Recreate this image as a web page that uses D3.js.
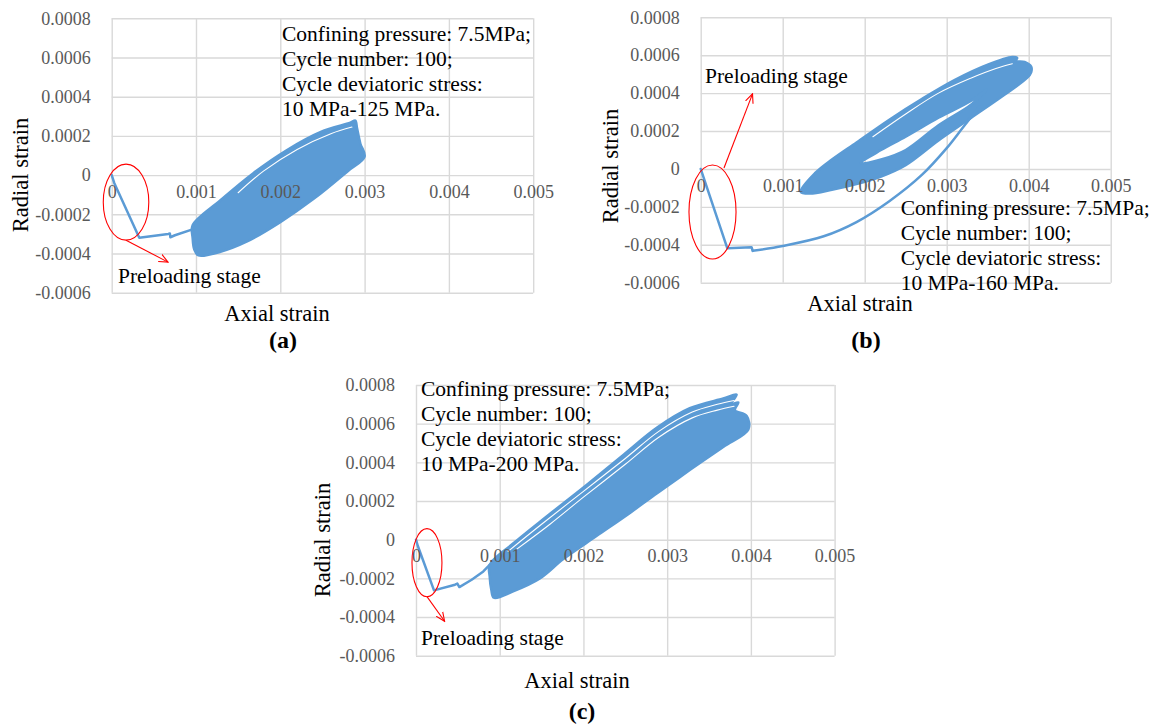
<!DOCTYPE html>
<html>
<head>
<meta charset="utf-8">
<script src="https://cdn.jsdelivr.net/npm/d3@7"></script>
<style>
  html, body { margin: 0; padding: 0; background: #ffffff; }
  svg { display: block; }
</style>
</head>
<body>
<svg id="fig" width="1150" height="726"></svg>
<script>
// ---- shared axes ----
const xTicks = [0, 0.001, 0.002, 0.003, 0.004, 0.005];
const yTicks = [-0.0006, -0.0004, -0.0002, 0, 0.0002, 0.0004, 0.0006, 0.0008];
const xTitle = "Axial strain";
const yTitle = "Radial strain";
const preloadLabel = "Preloading stage";

// ---- panel (a): 10 MPa-125 MPa ----
const noteA = ["Confining pressure: 7.5MPa;", "Cycle number: 100;", "Cycle deviatoric stress:", "10 MPa-125 MPa."];
const preloadA = [[0, 0], [0.00003, -0.00004], [0.000327, -0.00032], [0.00067, -0.000300], [0.00069, -0.000298],
  [0.000696, -0.000317], [0.00075, -0.000307], [0.00095, -0.000278], [0.00097, -0.00026]];
const rampA = [];
const bandA = [[0.00096, -0.000256], [0.00129, -0.000128], [0.00168, 0.00001], [0.00208, 0.000128], [0.00248, 0.00022],
  [0.00283, 0.000267], [0.00289, 0.000278], [0.00291, 0.00024], [0.00295, 0.00016], [0.003, 0.000094],
  [0.0028, 0.00002], [0.0024, -0.00012], [0.002, -0.00024], [0.0016, -0.00034], [0.0013, -0.00039], [0.00103, -0.00041],
  [0.00098, -0.00038], [0.00096, -0.00032]];
const gapA = [[0.0015, -0.00009], [0.0018, 0.00002], [0.0022, 0.000131], [0.0026, 0.000211], [0.00285, 0.000245]];

// ---- panel (b): 10 MPa-160 MPa ----
const noteB = ["Confining pressure: 7.5MPa;", "Cycle number: 100;", "Cycle deviatoric stress:", "10 MPa-160 MPa."];
const preloadB = [[0, 0], [0.000324, -0.000418], [0.00062, -0.000413], [0.000635, -0.000432]];
const rampB = [[0.000635, -0.000432], [0.001, -0.000406], [0.0015, -0.000355], [0.0019, -0.00028], [0.0023, -0.00017],
  [0.0027, -0.00003], [0.003, 0.00011], [0.0032, 0.00022], [0.0034, 0.00033]];
const bandB = [[0.00122, -0.00012], [0.0014, -0.00002], [0.0016, 0.00005], [0.0019, 0.00014], [0.0023, 0.00026],
  [0.0027, 0.00037], [0.0031, 0.00047], [0.0035, 0.00055], [0.0038, 0.00059], [0.00386, 0.000585], [0.00384, 0.00057],
  [0.00395, 0.000565], [0.00403, 0.00054], [0.00403, 0.00051], [0.00398, 0.00048], [0.0037, 0.00039], [0.0033, 0.00027],
  [0.0029, 0.00015], [0.0025, 0.00002], [0.0022, -0.00004], [0.0019, -0.00008], [0.0016, -0.00011], [0.00133, -0.00013]];
const holeB = [[0.00195, 0.00003], [0.0022, 0.0001], [0.0025, 0.00017], [0.0029, 0.00027], [0.0033, 0.00036],
  [0.00349, 0.00042], [0.0033, 0.00034], [0.0029, 0.00023], [0.0025, 0.0001], [0.0022, 0.00005]];
const gapB = [[0.0021, 0.00017], [0.0025, 0.00029], [0.0029, 0.0004], [0.0033, 0.00048], [0.0036, 0.00053], [0.0038, 0.000555]];

// ---- panel (c): 10 MPa-200 MPa ----
const noteC = ["Confining pressure: 7.5MPa;", "Cycle number: 100;", "Cycle deviatoric stress:", "10 MPa-200 MPa."];
const preloadC = [[0, 0], [0.00002, -0.00003], [0.000215, -0.000262], [0.000466, -0.000233], [0.000494, -0.000227],
  [0.000518, -0.000245], [0.000665, -0.000207], [0.000804, -0.000164], [0.00088, -0.00013]];
const rampC = [];
const bandC = [[0.00088, -0.00013], [0.00116, -0.00002], [0.00156, 0.00012], [0.002, 0.00027], [0.00248, 0.00044],
  [0.00288, 0.00058], [0.00327, 0.00068], [0.00367, 0.00073], [0.00383, 0.00075], [0.00376, 0.0007], [0.00385, 0.00071],
  [0.00381, 0.00067], [0.00395, 0.00064], [0.00397, 0.00057], [0.00367, 0.00048], [0.00327, 0.00036], [0.00288, 0.00024],
  [0.00256, 0.00014], [0.00216, 0.00002], [0.00176, -0.0001], [0.00148, -0.0002], [0.00116, -0.000267], [0.00093, -0.0003],
  [0.0009, -0.00026], [0.00088, -0.00019]];
const gapC1 = [[0.0011, -0.00006], [0.0015, 0.00008], [0.002, 0.00025], [0.0025, 0.00042], [0.0029, 0.00056],
  [0.0033, 0.00066], [0.0036, 0.0007], [0.0038, 0.00072]];
const gapC2 = [[0.0012, -0.00005], [0.0016, 0.00008], [0.002, 0.00022], [0.0025, 0.00039], [0.0029, 0.00053],
  [0.0033, 0.00063], [0.0036, 0.00067], [0.0038, 0.00069]];

// ---- layout of the three panels (pixels) and their callouts (data units) ----
const layout = [
  { tag: "(a)", left: 111.7, right: 533.2, top: 18.3, bottom: 292.7,
    preload: preloadA, ramp: rampA, band: bandA, hole: null, gaps: [gapA], notes: noteA,
    noteX: 282, noteY: 33, preX: 118, preY: 275,
    ellipse: { cx: 0.00017, cy: -0.000138, rx: 0.00027, ry: 0.000194 },
    arrow: [[0.00017, -0.000332], [0.000668, -0.000444]],
    yTitlePos: [20, 175], xTitlePos: [277, 313], tagPos: [283, 340] },
  { tag: "(b)", left: 700.7, right: 1110.7, top: 17.3, bottom: 282.7,
    preload: preloadB, ramp: rampB, band: bandB, hole: holeB, gaps: [gapB], notes: noteB,
    noteX: 900.7, noteY: 207, preX: 705, preY: 75,
    ellipse: { cx: 0.000144, cy: -0.000227, rx: 0.000287, ry: 0.000248 },
    arrow: [[0.000284, 0.000005], [0.000632, 0.000396]],
    yTitlePos: [610, 166], xTitlePos: [860, 303], tagPos: [866, 340] },
  { tag: "(c)", left: 416, right: 834.6, top: 385, bottom: 655.7,
    preload: preloadC, ramp: rampC, band: bandC, hole: null, gaps: [gapC1, gapC2], notes: noteC,
    noteX: 421, noteY: 388, preX: 421, preY: 637,
    ellipse: { cx: 0.000131, cy: -0.000119, rx: 0.000179, ry: 0.000176 },
    arrow: [[0.000129, -0.000293], [0.000342, -0.000422]],
    yTitlePos: [322, 540], xTitlePos: [577, 680], tagPos: [582, 711] }
];

const SERIF = "'Liberation Serif', 'Times New Roman', Times, serif";
const BLUE = "#5b9bd5";
const GRID = "#d9d9d9";
const TICK = "#595959";

const svg = d3.select("#fig");
svg.append("rect").attr("width", 1150).attr("height", 726).attr("fill", "#fff");

svg.append("defs").append("marker")
  .attr("id", "arrowhead")
  .attr("viewBox", "0 0 10 10")
  .attr("refX", 9).attr("refY", 5)
  .attr("markerWidth", 10).attr("markerHeight", 10)
  .attr("markerUnits", "userSpaceOnUse")
  .attr("orient", "auto")
  .append("path")
  .attr("d", "M0,1 L9,5 L0,9")
  .attr("fill", "none")
  .attr("stroke", "#ff0000")
  .attr("stroke-width", 1.1);

const fmt = d => (d === 0 ? "0" : String(d));

function drawPanel(p) {
  const g = svg.append("g");
  const x = d3.scaleLinear().domain([0, 0.005]).range([p.left, p.right]);
  const y = d3.scaleLinear().domain([-0.0006, 0.0008]).range([p.bottom, p.top]);
  const w = p.right - p.left, h = p.bottom - p.top;

  // gridlines (including the plot frame)
  g.append("g")
    .attr("transform", `translate(0,${p.bottom})`)
    .call(d3.axisBottom(x).tickValues(xTicks).tickSize(-h).tickFormat(""))
    .call(s => s.select(".domain").remove())
    .call(s => s.selectAll("line").attr("stroke", GRID).attr("stroke-width", 1.4));
  g.append("g")
    .attr("transform", `translate(${p.left},0)`)
    .call(d3.axisLeft(y).tickValues(yTicks).tickSize(-w).tickFormat(""))
    .call(s => s.select(".domain").remove())
    .call(s => s.selectAll("line").attr("stroke", GRID).attr("stroke-width", 1.4));

  const straight = d3.line().x(d => x(d[0])).y(d => y(d[1]));
  const smooth = d3.line().curve(d3.curveCatmullRom.alpha(0.5)).x(d => x(d[0])).y(d => y(d[1]));
  const ring = d3.line().curve(d3.curveCatmullRomClosed.alpha(0.5)).x(d => x(d[0])).y(d => y(d[1]));

  // cyclic loops: filled envelope of the 100 cycles
  let bandPath = ring(p.band);
  if (p.hole) bandPath += ring(p.hole);
  g.append("path")
    .attr("d", bandPath)
    .attr("fill", BLUE)
    .attr("fill-rule", "evenodd")
    .attr("stroke", BLUE)
    .attr("stroke-width", 2.5)
    .attr("stroke-linejoin", "round");

  // thin separations between the first cycles
  p.gaps.forEach(gp => {
    g.append("path")
      .attr("d", smooth(gp))
      .attr("fill", "none")
      .attr("stroke", "#ffffff")
      .attr("stroke-width", 1.1)
      .attr("stroke-linecap", "round");
  });

  // preloading path and the first loading ramp
  g.append("path")
    .attr("d", straight(p.preload))
    .attr("fill", "none")
    .attr("stroke", BLUE)
    .attr("stroke-width", 2.5)
    .attr("stroke-linejoin", "round")
    .attr("stroke-linecap", "round");
  if (p.ramp.length) {
    g.append("path")
      .attr("d", smooth(p.ramp))
      .attr("fill", "none")
      .attr("stroke", BLUE)
      .attr("stroke-width", 2.5)
      .attr("stroke-linecap", "round");
  }

  // red callout
  const e = p.ellipse;
  g.append("ellipse")
    .attr("cx", x(e.cx)).attr("cy", y(e.cy))
    .attr("rx", x(e.rx) - x(0)).attr("ry", y(0) - y(e.ry))
    .attr("fill", "none").attr("stroke", "#ff0000").attr("stroke-width", 1.1);
  g.append("line")
    .attr("x1", x(p.arrow[0][0])).attr("y1", y(p.arrow[0][1]))
    .attr("x2", x(p.arrow[1][0])).attr("y2", y(p.arrow[1][1]))
    .attr("stroke", "#ff0000").attr("stroke-width", 1.1)
    .attr("marker-end", "url(#arrowhead)");

  // tick labels: x labels sit just under the zero line
  g.append("g")
    .attr("transform", `translate(0,${y(0)})`)
    .call(d3.axisBottom(x).tickValues(xTicks).tickSize(0).tickPadding(10).tickFormat(fmt))
    .call(s => s.select(".domain").remove())
    .call(s => s.selectAll("text").attr("font-family", SERIF).attr("font-size", 18).attr("fill", TICK));
  g.append("g")
    .attr("transform", `translate(${p.left},0)`)
    .call(d3.axisLeft(y).tickValues(yTicks).tickSize(0).tickPadding(21).tickFormat(fmt))
    .call(s => s.select(".domain").remove())
    .call(s => s.selectAll("text").attr("font-family", SERIF).attr("font-size", 18).attr("fill", TICK));

  // axis titles and panel tag
  g.append("text")
    .attr("transform", `translate(${p.yTitlePos[0]},${p.yTitlePos[1]}) rotate(-90)`)
    .attr("text-anchor", "middle").attr("dy", "0.35em")
    .attr("font-family", SERIF).attr("font-size", 22.5)
    .text(yTitle);
  g.append("text")
    .attr("x", p.xTitlePos[0]).attr("y", p.xTitlePos[1])
    .attr("text-anchor", "middle").attr("dy", "0.35em")
    .attr("font-family", SERIF).attr("font-size", 22.5)
    .text(xTitle);
  g.append("text")
    .attr("x", p.tagPos[0]).attr("y", p.tagPos[1])
    .attr("text-anchor", "middle").attr("dy", "0.35em")
    .attr("font-family", SERIF).attr("font-size", 24).attr("font-weight", "bold")
    .text(p.tag);

  // test conditions
  g.append("g").selectAll("text")
    .data(p.notes)
    .join("text")
    .attr("x", p.noteX)
    .attr("y", (d, i) => p.noteY + i * 25)
    .attr("dy", "0.35em")
    .attr("font-family", SERIF).attr("font-size", 21.5)
    .text(d => d);

  g.append("text")
    .attr("x", p.preX).attr("y", p.preY)
    .attr("dy", "0.35em")
    .attr("font-family", SERIF).attr("font-size", 21.5)
    .text(preloadLabel);
}

layout.forEach(drawPanel);
</script>
</body>
</html>
